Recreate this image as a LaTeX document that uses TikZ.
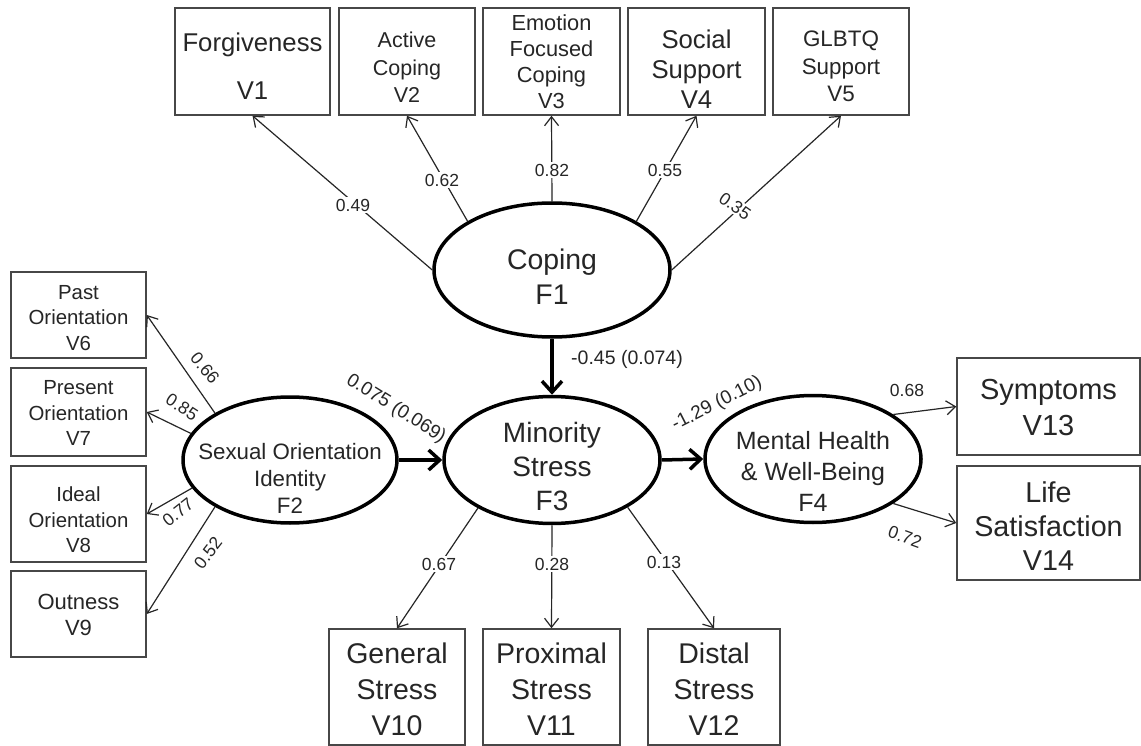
\documentclass[tikz,border=0pt]{standalone}
\usepackage{fontspec}
\setmainfont{Liberation Sans}
\usetikzlibrary{shapes.geometric,arrows.meta}
\begin{document}
\begin{tikzpicture}[x=1pt,y=-1pt,
  box/.style={draw=black!72,line width=1.5pt,inner sep=0pt},
  lat/.style={draw=black,ellipse,line width=3.5pt,inner sep=0pt},
  ltxt/.style={align=center,text=black!85,inner sep=0pt},
  loadarrow/.style={draw=black!85,line width=1.2pt,-{Straight Barb[length=9pt,width=14pt]}},
  structarrow/.style={draw=black,line width=3.5pt,-{Straight Barb[length=11pt,width=20pt]}},
  coef/.style={fill=white,inner sep=1.5pt,font=\fontsize{17.5}{20}\selectfont,text=black!85},
  ]
\useasboundingbox (0,0) rectangle (1141,746);
\fill[white] (0,0) rectangle (1141,746);

% indicator boxes, top
\node[box,minimum width=155pt,minimum height=107pt] (V1) at (252.5,61.5) {};
\node[ltxt,font=\fontsize{25.7}{31}\selectfont] (V1t) at ([yshift=-5pt]V1.center) {Forgiveness\\[17pt]V1};
\node[box,minimum width=136pt,minimum height=107pt] (V2) at (407,61.5) {};
\node[ltxt,font=\fontsize{21.5}{27.5}\selectfont] (V2t) at ([yshift=-6pt]V2.center) {Active\\Coping\\V2};
\node[box,minimum width=137pt,minimum height=107pt] (V3) at (551.5,61.5) {};
\node[ltxt,font=\fontsize{21.8}{26}\selectfont] (V3t) at ([yshift=0pt]V3.center) {Emotion\\Focused\\Coping\\V3};
\node[box,minimum width=137pt,minimum height=107pt] (V4) at (696.5,61.5) {};
\node[ltxt,font=\fontsize{25.7}{30}\selectfont] (V4t) at ([yshift=-8pt]V4.center) {Social\\Support\\V4};
\node[box,minimum width=136pt,minimum height=107pt] (V5) at (841,61.5) {};
\node[ltxt,font=\fontsize{22.4}{27.5}\selectfont] (V5t) at ([yshift=-5pt]V5.center) {GLBTQ\\Support\\V5};

% indicator boxes, left
\node[box,minimum width=135pt,minimum height=86pt] (V6) at (78.5,315) {};
\node[ltxt,font=\fontsize{20.4}{25.5}\selectfont] (V6t) at ([yshift=-3pt]V6.center) {Past\\Orientation\\V6};
\node[box,minimum width=135pt,minimum height=88pt] (V7) at (78.5,412) {};
\node[ltxt,font=\fontsize{20.4}{25.5}\selectfont] (V7t) at ([yshift=-1pt]V7.center) {Present\\Orientation\\V7};
\node[box,minimum width=135pt,minimum height=96pt] (V8) at (78.5,514) {};
\node[ltxt,font=\fontsize{20.4}{25.5}\selectfont] (V8t) at ([yshift=-6pt]V8.center) {Ideal\\Orientation\\V8};
\node[box,minimum width=135pt,minimum height=86pt] (V9) at (78.5,614) {};
\node[ltxt,font=\fontsize{22}{26}\selectfont] (V9t) at ([yshift=-1pt]V9.center) {Outness\\V9};

% indicator boxes, right
\node[box,minimum width=183pt,minimum height=97pt] (V13) at (1048.5,406.5) {};
\node[ltxt,font=\fontsize{29}{36}\selectfont] (V13t) at ([yshift=-1pt]V13.center) {Symptoms\\V13};
\node[box,minimum width=183pt,minimum height=114pt] (V14) at (1048.5,523) {};
\node[ltxt,font=\fontsize{28.7}{34}\selectfont] (V14t) at ([yshift=-3pt]V14.center) {Life\\Satisfaction\\V14};

% indicator boxes, bottom
\node[box,minimum width=136pt,minimum height=116pt] (V10) at (397,687) {};
\node[ltxt,font=\fontsize{28.5}{36}\selectfont] (V10t) at ([yshift=-2pt]V10.center) {General\\Stress\\V10};
\node[box,minimum width=137pt,minimum height=116pt] (V11) at (551.5,687) {};
\node[ltxt,font=\fontsize{28.5}{36}\selectfont] (V11t) at ([yshift=-2pt]V11.center) {Proximal\\Stress\\V11};
\node[box,minimum width=132pt,minimum height=116pt] (V12) at (714,687) {};
\node[ltxt,font=\fontsize{28.5}{36}\selectfont] (V12t) at ([yshift=-2pt]V12.center) {Distal\\Stress\\V12};

% latent factors
\node[lat,minimum width=236pt,minimum height=134pt] (F1) at (552,270) {};
\node[ltxt,font=\fontsize{28.4}{35}\selectfont] (F1t) at (552,277) {Coping\\F1};
\node[lat,minimum width=214pt,minimum height=126pt] (F2) at (290,460) {};
\node[ltxt,font=\fontsize{22.3}{27}\selectfont] (F2t) at (290,478) {Sexual Orientation\\Identity\\F2};
\node[lat,minimum width=216pt,minimum height=127pt] (F3) at (552,460) {};
\node[ltxt,font=\fontsize{28}{34}\selectfont] (F3t) at (552,466) {Minority\\Stress\\F3};
\node[lat,minimum width=216pt,minimum height=127pt] (F4) at (813,459) {};
\node[ltxt,font=\fontsize{25}{31}\selectfont] (F4t) at (813,471) {Mental Health\\\& Well-Being\\F4};

% loadings
\draw[loadarrow] (F1.180) -- (V1.south);
\draw[loadarrow] (F1.150) -- (V2.south);
\draw[loadarrow] (F1.north) -- (V3.south);
\draw[loadarrow] (F1.30) -- (V4.south);
\draw[loadarrow] (F1.east) -- (V5.south);
\draw[loadarrow] (F2.148) -- (V6.east);
\draw[loadarrow] (F2.165) -- (V7.east);
\draw[loadarrow] (F2.196) -- (V8.east);
\draw[loadarrow] (F2.212) -- (V9.east);
\draw[loadarrow] (F3.213) -- (V10.north);
\draw[loadarrow] (F3.south) -- (V11.north);
\draw[loadarrow] (F3.328) -- (V12.north);
\draw[loadarrow] (F4.29) -- (V13.west);
\draw[loadarrow] (F4.331) -- (V14.west);

% structural paths
\draw[structarrow] (F1.south) -- (F3.north);
\draw[structarrow] (F2.east) -- (F3.west);
\draw[structarrow] (F3.east) -- (F4.west);

% coefficients
\node[coef] (c1) at (353,205) {0.49};
\node[coef] (c2) at (442,180) {0.62};
\node[coef] (c3) at (552,170) {0.82};
\node[coef] (c4) at (665,170) {0.55};
\node[coef,rotate=-35] (c5) at (735,206) {0.35};
\node[coef,fill=none,rotate=-50] (c6) at (205,368) {0.66};
\node[coef,fill=none,rotate=-33] (c7) at (182,407) {0.85};
\node[coef,fill=none,rotate=38] (c8) at (178,512) {0.77};
\node[coef,fill=none,rotate=52] (c9) at (208,553) {0.52};
\node[coef] (c10) at (439,564) {0.67};
\node[coef] (c11) at (552,564) {0.28};
\node[coef] (c12) at (664,562) {0.13};
\node[coef,fill=none] (c13) at (907,390) {0.68};
\node[coef,fill=none,rotate=-20] (c14) at (905,537) {0.72};
\node[coef,fill=none,font=\fontsize{19.5}{22}\selectfont] (c15) at (627,359) {-0.45 (0.074)};
\node[coef,fill=none,font=\fontsize{19}{22}\selectfont,rotate=-32] (c16) at (396,409) {0.075 (0.069)};
\node[coef,fill=none,font=\fontsize{19}{22}\selectfont,rotate=27] (c17) at (717,404) {-1.29 (0.10)};
\end{tikzpicture}
\end{document}
